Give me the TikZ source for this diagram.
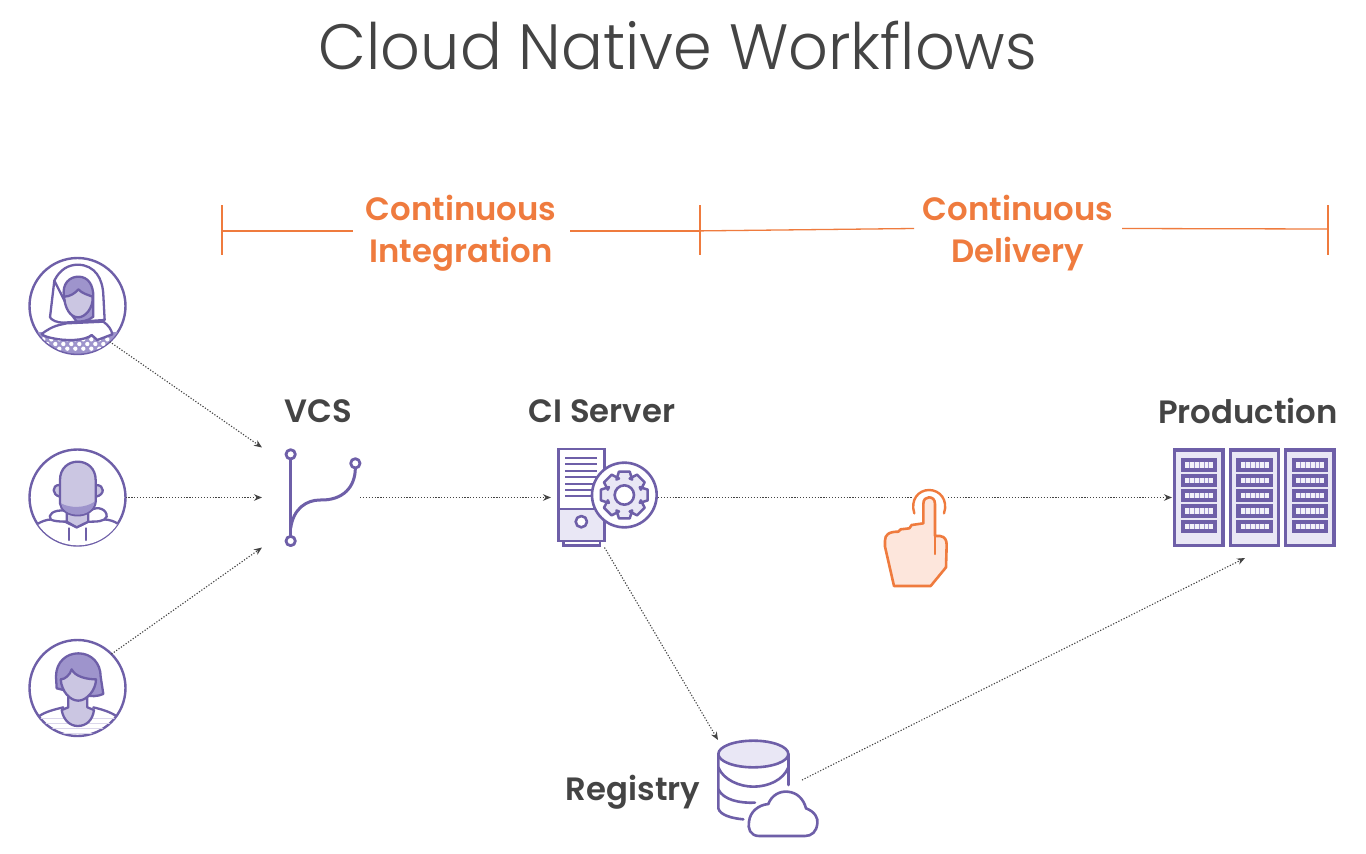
\documentclass[tikz,border=0pt]{standalone}
\usepackage{fontspec}
\usetikzlibrary{arrows.meta,calc}
\setmainfont{Poppins}
\newfontfamily\titlefont[FakeStretch=0.97]{Poppins Light}
\newfontfamily\boldfont{Poppins SemiBold}
\definecolor{ink}{HTML}{444444}
\definecolor{orange}{HTML}{EF7B3E}
\definecolor{handfill}{HTML}{FDE6DC}
\definecolor{purp}{HTML}{6E5FA8}
\definecolor{lav}{HTML}{CBC6E2}
\definecolor{midp}{HTML}{9E94CC}
\definecolor{pale}{HTML}{E9E7F5}
\tikzset{
  ttl/.style={font=\titlefont\fontsize{64}{70}\selectfont,text=ink,inner sep=0pt},
  lbl/.style={font=\boldfont\fontsize{32.3}{34}\selectfont,text=ink,inner sep=0pt},
  phase/.style={font=\boldfont\fontsize{32.3}{42}\selectfont,text=orange,inner sep=0pt,align=center},
  bracket/.style={draw=orange,line width=1.3pt},
  flow/.style={draw=ink,line width=1.1pt,dash pattern=on 1.2pt off 1.7pt,-{Stealth[length=8pt,width=6.5pt,color=ink]}},
  avatar/.style={circle,draw=purp,line width=2.4pt,minimum size=96pt,inner sep=0pt,outer sep=0pt},
  iconbox/.style={inner sep=0pt,outer sep=0pt,rectangle},
  ic/.style={draw=purp,line width=2.6pt,line join=round,line cap=round},
  thinic/.style={ic,line width=2.3pt},
  zoomunits/.style={x=0.33333pt,y=-0.33333pt},
}
\begin{document}
\begin{tikzpicture}[x=1pt,y=-1pt]
\useasboundingbox (0,0) rectangle (1366,854);
\fill[white] (0,0) rectangle (1366,854);

\node[ttl] (title) at (678,46) {Cloud Native Workflows};

% named icon frames
\node[avatar] (u1) at (77.5,306) {};
\node[avatar] (u2) at (77.5,497.5) {};
\node[avatar] (u3) at (77.5,688) {};
\node[iconbox,minimum width=98pt,minimum height=100pt] (vcs) at (311,497.5) {};
\node[iconbox,minimum width=107pt,minimum height=100pt] (ci) at (604.5,497.5) {};
\node[iconbox,minimum width=164pt,minimum height=100pt] (prod) at (1254,497.5) {};
\node[iconbox,minimum width=100pt,minimum height=98pt] (reg) at (768,789) {};
\coordinate (regout) at (802,780);
\coordinate (prodin) at (1245,558);

% phase brackets
\coordinate (b1) at (222,231);
\coordinate (b2) at (700,231);
\coordinate (b3) at (1328,229);
\node[phase] (ciphase) at (461,233) {Continuous\\Integration};
\node[phase] (cdphase) at (1018,233) {Continuous\\Delivery};
\draw[bracket] (222,205) -- (222,255);
\draw[bracket] (700,205) -- (700,255);
\draw[bracket] (1328,205) -- (1328,255);
\draw[bracket] (b1) -- (353,231);
\draw[bracket] (570,231) -- (b2);
\draw[bracket] (690,231) -- (914,228.5);
\draw[bracket] (1122,228.5) -- (b3);

% labels
\node[lbl] (vcslabel) at (318,411) {VCS};
\node[lbl] (cilabel) at (602,411) {CI Server};
\node[lbl] (prodlabel) at (1248,411) {Production};
\node[lbl] (reglabel) at (633,792) {Registry};

% connectors
\draw[flow] (u1.-48) -- (vcs.north west);
\draw[flow] (u2.east) -- (vcs.west);
\draw[flow] (u3.45) -- (vcs.south west);
\draw[flow] (vcs.east) -- (ci.west);
\draw[flow] (ci.east) -- (prod.west);
\draw[flow] (ci.south) -- (reg.north west);
\draw[flow] (regout) -- (prodin);

% avatar 1
\begin{scope}[shift={(10,240)},zoomunits]
  \begin{scope}
    \clip (203,197) circle (144);
    \fill[midp] (80,275) rectangle (330,345);
    \foreach \r/\o in {298/0,312/12,326/0}
      \foreach \i in {0,...,8}
        \fill[white] ({100+\o+\i*24},\r) circle (6.5);
    \draw[thinic,fill=white] (95,282) .. controls (130,255) and (150,255) .. (170,250) -- (280,245) .. controls (295,255) and (305,270) .. (307,283) -- (262,300) -- (245,285) .. controls (225,303) and (165,303) .. (130,295) .. controls (115,292) and (100,288) .. (95,282) -- cycle;
  \end{scope}
  \draw[thinic,fill=white] (133,122) .. controls (150,88) and (175,74) .. (205,74) .. controls (255,76) and (278,115) .. (280,165) -- (284,240) -- (160,248) .. controls (140,248) and (125,240) .. (120,232) -- cycle;
  \draw[thinic,fill=midp] (162,170) .. controls (155,130) and (180,110) .. (205,110) .. controls (235,110) and (250,135) .. (250,170) .. controls (250,195) and (250,220) .. (250,230) .. controls (235,243) and (215,245) .. (200,245) -- (175,210) -- cycle;
  \draw[thinic,fill=lav] (162,170) .. controls (180,170) and (195,160) .. (205,148) .. controls (215,160) and (235,165) .. (248,170) .. controls (250,205) and (225,232) .. (205,232) .. controls (180,232) and (165,205) .. (162,170) -- cycle;
  \draw[thinic] (133,122) -- (165,185);
\end{scope}

% avatar 2
\begin{scope}[shift={(10,240)},zoomunits]
  \begin{scope}
    \clip (203,772) circle (144);
    \draw[thinic,fill=white] (82,852) .. controls (110,835) and (135,835) .. (165,845) -- (200,862) -- (235,845) .. controls (270,835) and (300,835) .. (325,852) -- (325,930) -- (82,930) -- cycle;
  \end{scope}
  \draw[thinic,fill=white] (165,812) .. controls (130,808) and (112,825) .. (122,838) .. controls (130,845) and (165,845) .. (175,845) -- (235,845) .. controls (260,845) and (285,845) .. (290,830) .. controls (292,810) and (265,795) .. (240,812) -- cycle;
  \draw[thinic,fill=lav] (170,815) -- (170,845) -- (200,862) -- (235,845) -- (235,815) -- cycle;
  \draw[thinic,fill=lav] (148,735) .. controls (125,735) and (125,765) .. (150,770);
  \draw[thinic,fill=lav] (258,735) .. controls (285,735) and (285,765) .. (258,770);
  \draw[thinic,fill=lav] (150,790) -- (150,720) .. controls (150,685) and (175,665) .. (203,665) .. controls (232,665) and (257,685) .. (257,720) -- (257,785) .. controls (255,810) and (230,826) .. (203,826) .. controls (175,826) and (152,810) .. (150,790) -- cycle;
  \fill[midp] (153,790) .. controls (180,805) and (225,805) .. (254,785) .. controls (252,808) and (230,824) .. (203,824) .. controls (177,824) and (156,810) .. (153,790) -- cycle;
  \draw[thinic] (178,865) -- (178,900) (228,865) -- (228,900);
\end{scope}

% avatar 3
\begin{scope}[shift={(10,620)},zoomunits]
  \begin{scope}
    \clip (203,203) circle (144);
    \foreach \y in {295,310,325,340} \draw[lav!70,line width=1.6pt] (80,\y) -- (330,\y);
    \draw[thinic] (85,290) .. controls (105,275) and (135,268) .. (160,262);
    \draw[thinic] (250,262) .. controls (275,268) and (300,275) .. (322,290);
  \end{scope}
  \draw[thinic,fill=lav] (175,230) -- (175,262) -- (155,270) .. controls (160,300) and (180,318) .. (203,318) .. controls (230,318) and (248,300) .. (252,270) -- (232,262) -- (232,230) -- cycle;
  \draw[thinic,fill=midp] (140,205) -- (138,170) .. controls (138,125) and (170,100) .. (205,100) .. controls (245,100) and (272,130) .. (272,170) -- (280,222) .. controls (260,230) and (245,230) .. (220,225) -- cycle;
  \draw[thinic,fill=lav] (152,178) .. controls (165,178) and (180,165) .. (185,148) .. controls (195,170) and (230,178) .. (258,178) .. controls (258,210) and (230,242) .. (205,242) .. controls (180,242) and (155,215) .. (152,178) -- cycle;
\end{scope}

% VCS icon
\begin{scope}[shift={(250,430)},zoomunits]
  \draw[ic,line width=3pt] (122,87) -- (122,319);
  \draw[ic,line width=3pt] (122,295) .. controls (130,235) and (170,210) .. (210,210) .. controls (280,212) and (316,170) .. (316,114);
  \draw[ic,fill=white,line width=2.8pt] (122,73) circle (14) (122,333) circle (14) (316,100) circle (14);
\end{scope}

% CI server icon
\begin{scope}[shift={(540,435)},zoomunits]
  \draw[ic,line join=miter] (70,318) -- (70,332) -- (180,332) -- (180,318);
  \fill[pale] (55,222) rectangle (193,318);
  \draw[ic,line join=miter] (55,42) rectangle (193,318);
  \draw[ic,line cap=butt] (55,222) -- (193,222);
  \foreach \y in {70,88,108,127,147,165,183} \draw[ic,line cap=butt,line width=2.3pt] (75,\y) -- (172,\y);
  \draw[ic,fill=white] (124,260) circle (17);
  \draw[ic,fill=white] (253,180) circle (97);
  \coordinate (gearc) at (253,180);
  \draw[ic,fill=pale,line width=2.5pt] ($(gearc)+(-27:52)$) \foreach \a in {0,45,...,315} {
     -- ($(gearc)+(\a-13:72)$) -- ($(gearc)+(\a+13:72)$) -- ($(gearc)+(\a+27:52)$) -- ($(gearc)+(\a+18:52)$)
  } -- cycle;
  \draw[ic,fill=white] (gearc) circle (29);
\end{scope}

% hand
\begin{scope}[shift={(870,480)},zoomunits]
  \node[iconbox,minimum width=64pt,minimum height=98pt] (hand) at (135,175) {};
  \fill[white] (125,30) rectangle (230,110);
  \draw[draw=orange,line width=2.4pt,line cap=round] (133,100) .. controls (120,60) and (145,30) .. (177,30) .. controls (210,30) and (235,60) .. (222,100);
  \draw[draw=orange,line width=2.6pt,line join=round,line cap=round,fill=handfill] (160,130) -- (160,72) .. controls (160,58) and (168,52) .. (177,52) .. controls (187,52) and (195,58) .. (195,72) -- (195,168) -- (210,168) .. controls (225,170) and (230,180) .. (230,195) -- (228,262) -- (182,318) -- (72,318) -- (45,200) -- (45,182) .. controls (45,165) and (55,155) .. (85,155) -- (92,148) -- (118,145) -- (125,135) -- cycle;
  \draw[draw=orange,line width=2.4pt,line cap=round] (195,168) -- (195,222);
\end{scope}

% production racks
\begin{scope}[shift={(1160,440)},zoomunits]
  \foreach \x in {40,207,373} {
    \draw[draw=purp,line width=3.2pt,fill=pale] (\x+4,30) rectangle (\x+149,316);
    \foreach \y in {55,101,147,193,239} {
      \fill[purp] (\x+22,\y) rectangle (\x+132,\y+40);
      \fill[pale!60!white] (\x+35,\y+12) rectangle (\x+120,\y+28);
      \foreach \i in {1,...,5} \draw[midp,line width=0.6pt] (\x+35+\i*14.2,\y+12) -- (\x+35+\i*14.2,\y+28);
    }
  }
\end{scope}

% registry icon
\begin{scope}[shift={(700,730)},zoomunits]
  \draw[ic,fill=white] (55,72) -- (55,235) .. controls (60,255) and (95,265) .. (130,268);
  \draw[ic] (265,72) -- (265,165);
  \draw[ic] (55,112) .. controls (70,150) and (120,170) .. (160,170) .. controls (205,170) and (250,150) .. (265,112);
  \draw[ic] (55,178) .. controls (70,210) and (120,220) .. (165,218);
  \draw[ic,fill=pale] (160,72) ellipse (105 and 40);
  \draw[ic,fill=white] (178,318) .. controls (150,318) and (143,295) .. (147,275) .. controls (150,245) and (175,225) .. (205,222) .. controls (215,195) and (240,183) .. (262,185) .. controls (290,187) and (310,205) .. (318,235) .. controls (345,245) and (355,265) .. (352,280) .. controls (350,305) and (335,318) .. (315,318) -- cycle;
\end{scope}
\end{tikzpicture}
\end{document}
